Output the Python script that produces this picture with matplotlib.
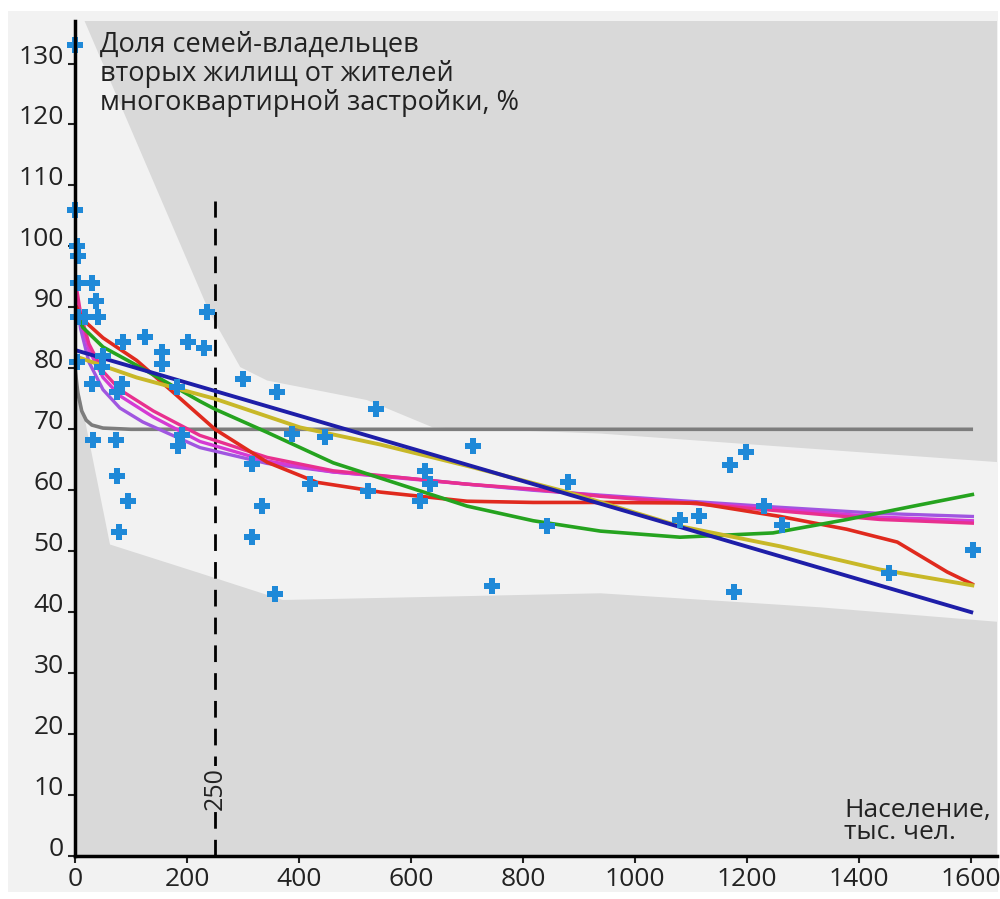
import matplotlib
matplotlib.use("Agg")
import matplotlib.pyplot as plt
from matplotlib import font_manager as fm
from matplotlib.patches import Polygon, Rectangle

# ---------------- data ----------------
points_x = [0, 0, 3, 5, 5, 30, 37, 5, 18, 41, 86, 125, 155, 155, 202, 230, 236,
            4, 50, 48, 30, 84, 75, 182, 32, 73, 191, 184, 300, 361, 316, 388,
            446, 75, 95, 79, 316, 334, 420, 537, 357, 523, 625, 634, 616, 711,
            880, 843, 745, 1170, 1198, 1080, 1114, 1230, 1262, 1177, 1454, 1603]
points_y = [133, 106, 100, 98.5, 94, 94, 91, 88.5, 88.5, 88.5, 84.3, 85.2, 82.6,
            80.7, 84.3, 83.3, 89.2, 81.1, 82, 80.3, 77.4, 77.4, 76.2, 77, 68.2,
            68.2, 69, 67.2, 78.2, 76.2, 64.3, 69.2, 68.7, 62.3, 58.2, 53.1, 52.3,
            57.4, 61.1, 73.3, 43, 59.8, 63.1, 61, 58.2, 67.2, 61.3, 54.1, 44.3,
            64.1, 66.2, 55.1, 55.7, 57.4, 54.3, 43.3, 46.4, 50.2]

gray_x = [0, 5, 12, 20, 30, 50, 100, 1600]
gray_y = [80, 76, 73, 71.5, 70.7, 70.2, 70, 70]

blue_x = [0, 1600]
blue_y = [83, 40]

yellow_x = [0, 110, 250, 402, 545, 700, 879, 1080, 1259, 1437, 1602]
yellow_y = [82, 78.5, 75, 70.3, 67.5, 64, 59.7, 54.1, 50.8, 47, 44.4]

green_x = [3, 14, 50, 110, 223, 250, 343, 461, 545, 700, 818, 938, 1080, 1246,
           1378, 1497, 1602]
green_y = [89, 86.7, 83.5, 80.5, 74.6, 73.3, 69.5, 64.5, 62, 57.4, 55, 53.3,
           52.3, 53, 55.2, 57.4, 59.3]

red_x = [3, 14, 50, 110, 170, 250, 343, 432, 545, 700, 818, 938, 1110, 1259,
         1378, 1468, 1557, 1602]
red_y = [90, 88, 85, 81.3, 76.5, 70, 64.6, 61.3, 59.7, 58.2, 58, 58, 57.9, 55.7,
         53.6, 51.5, 46.6, 44.6]

pink_x = [3, 10, 25, 50, 80, 140, 223, 343, 461, 580, 700, 818, 938, 1080, 1259,
          1437, 1602]
pink_y = [93, 89, 84, 79.5, 76.5, 73, 69, 65.4, 63.2, 62.1, 61, 60.2, 59, 58,
          56.6, 55.2, 54.6]

magenta_x = [3, 10, 25, 50, 80, 140, 223, 343, 461, 580, 700, 818, 938, 1080,
             1259, 1437, 1602]
magenta_y = [92, 88, 83, 78.5, 75.5, 72, 68, 64.8, 63, 62, 61, 60.1, 59.1, 58.1,
             56.9, 55.6, 55]

violet_x = [3, 10, 25, 50, 80, 121, 223, 343, 461, 580, 700, 818, 938, 1080,
            1259, 1437, 1602]
violet_y = [91, 86.5, 81, 76.5, 73.5, 71.2, 67, 64.4, 63, 62.1, 61, 60, 59.2,
            58.3, 57.2, 56.2, 55.7]

band_upper_x = [0, 16, 241, 295, 343, 521, 639, 938, 1650]
band_upper_y = [137.2, 137.2, 89, 80.2, 78, 74.8, 70.3, 69.3, 64.6]
band_lower_x = [0, 3.6, 62.5, 223, 371, 938, 1330, 1650]
band_lower_y = [78, 78, 51.1, 46.4, 42, 43.1, 40.8, 38.4]

threshold_x = 250
threshold_top = 107.5
threshold_seg = [66.5, 76.6]

yticks = [0, 10, 20, 30, 40, 50, 60, 70, 80, 90, 100, 110, 120, 130]
xticks = [0, 200, 400, 600, 800, 1000, 1200, 1400, 1600]

title = "Доля семей-владельцев\nвторых жилищ от жителей\nмногоквартирной застройки, %"
xlabel = "Население,\nтыс. чел."

# ---------------- fonts ----------------
names = {f.name for f in fm.fontManager.ttflist}
narrow = "Liberation Sans Narrow" if "Liberation Sans Narrow" in names else "Open Sans"
text_font = "Open Sans" if "Open Sans" in names else "DejaVu Sans"

# ---------------- figure ----------------
fig = plt.figure(figsize=(10, 8.99), dpi=100, facecolor="white")
fig.patches.append(Rectangle((0.008, 0.008), 0.99, 0.98, transform=fig.transFigure,
                             facecolor="#f2f2f2", edgecolor="none", zorder=-10))
ax = fig.add_axes([0.075, 0.0478, 0.922, 0.929])
ax.set_facecolor("#d9d9d9")
ax.set_xlim(0, 1646)
ax.set_ylim(0, 137)

poly = list(zip(band_upper_x, band_upper_y)) + list(zip(band_lower_x[::-1], band_lower_y[::-1]))
ax.add_patch(Polygon(poly, closed=True, facecolor="#f2f2f2", edgecolor="none", zorder=0))

# threshold
ax.plot([threshold_x, threshold_x], [0, threshold_top], color="black", lw=2,
        dashes=(6, 4), zorder=2)
ax.plot([threshold_x, threshold_x], threshold_seg, color="black", lw=2, zorder=2)
ax.text(threshold_x, 11, "250", rotation=90, ha="center", va="center",
        fontsize=18, family=text_font, color="#222222", zorder=3,
        bbox=dict(facecolor="#d9d9d9", edgecolor="none", pad=1.0))

# curves
ax.plot(gray_x, gray_y, color="#7d7d7d", lw=2.6, zorder=3)
ax.plot(violet_x, violet_y, color="#a056e0", lw=2.4, zorder=3)
ax.plot(magenta_x, magenta_y, color="#d43ad4", lw=2.4, zorder=3)
ax.plot(pink_x, pink_y, color="#e8308f", lw=2.4, zorder=3)
ax.plot(red_x, red_y, color="#e02a1e", lw=2.6, zorder=3)
ax.plot(green_x, green_y, color="#25a31f", lw=2.6, zorder=3)
ax.plot(yellow_x, yellow_y, color="#c8b828", lw=2.8, zorder=3)
ax.plot(blue_x, blue_y, color="#1e1ea8", lw=2.8, zorder=3)

# points
ax.plot(points_x, points_y, linestyle="none", marker="P", markersize=12,
        color="#1f89d8", markeredgewidth=0, zorder=5, clip_on=False)

# axes styling
for s in ["top", "right"]:
    ax.spines[s].set_visible(False)
for s in ["left", "bottom"]:
    ax.spines[s].set_linewidth(2.5)
    ax.spines[s].set_color("black")
    ax.spines[s].set_zorder(6)

ax.set_yticks(yticks)
ax.set_xticks(xticks)
ax.set_yticklabels([str(v) for v in yticks])
ax.set_xticklabels([str(v) for v in xticks])
ax.tick_params(axis="y", direction="out", length=5, width=1.5, pad=3,
               labelsize=19, colors="#222222")
ax.tick_params(axis="x", direction="out", length=5, width=1.5, pad=3,
               labelsize=19, colors="#222222")
for lab in ax.get_yticklabels() + ax.get_xticklabels():
    lab.set_family(narrow)
for lab in ax.get_yticklabels():
    lab.set_va("baseline")

ax.text(0.027, 0.988, title, transform=ax.transAxes, ha="left", va="top",
        fontsize=19.5, family=text_font, color="#222222", linespacing=1.05, zorder=7)
ax.text(0.834, 0.070, xlabel, transform=ax.transAxes, ha="left", va="top",
        fontsize=19, family=narrow, color="#222222", linespacing=0.88, zorder=7)

fig.savefig("out.png", dpi=100, facecolor="white")
